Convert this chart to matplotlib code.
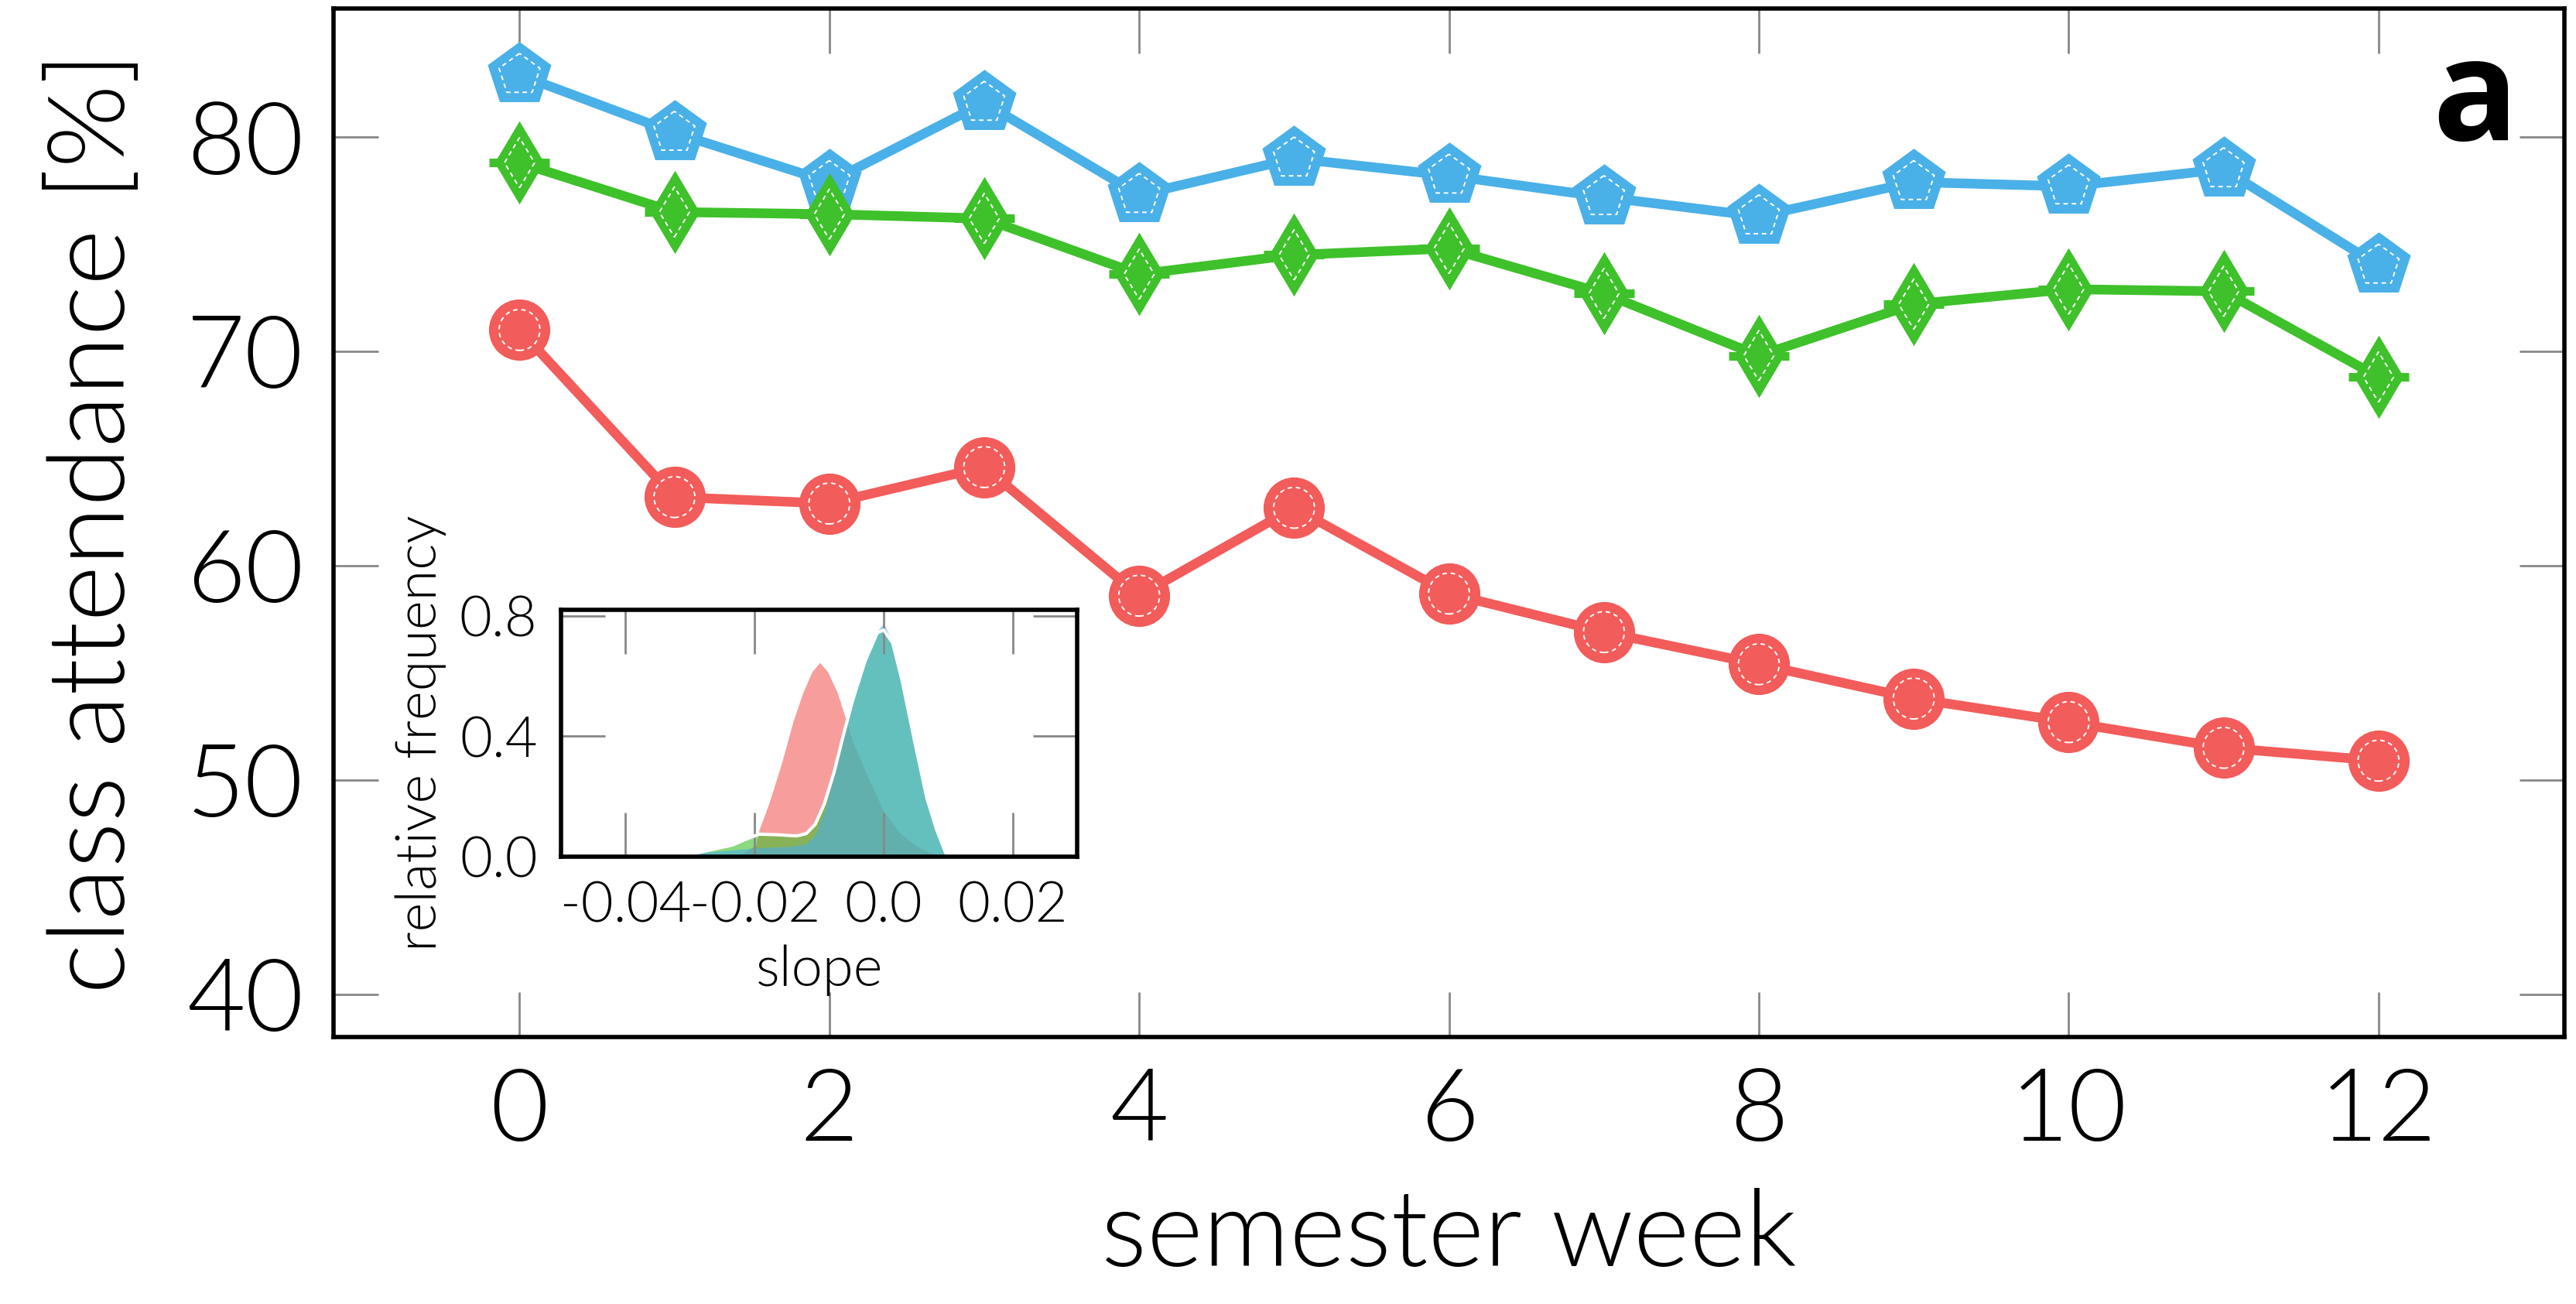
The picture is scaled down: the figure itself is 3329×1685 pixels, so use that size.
import matplotlib
matplotlib.use("Agg")
import matplotlib.pyplot as plt

# main panel data
weeks = [0, 1, 2, 3, 4, 5, 6, 7, 8, 9, 10, 11, 12]
blue_att = [82.9, 80.2, 77.9, 81.6, 77.3, 79.0, 78.2, 77.2, 76.3, 77.9, 77.7, 78.5, 74.0]
green_att = [78.8, 76.5, 76.4, 76.2, 73.6, 74.5, 74.8, 72.7, 69.8, 72.2, 72.9, 72.8, 68.8]
red_att = [71.0, 63.2, 62.9, 64.6, 58.6, 62.7, 58.7, 56.9, 55.4, 53.8, 52.7, 51.5, 50.9]

xticks = [0, 2, 4, 6, 8, 10, 12]
yticks = [40, 50, 60, 70, 80]

# inset: slope distributions
red_x = [-0.050, -0.024, -0.0217, -0.0198, -0.0193, -0.0178, -0.0159, -0.0140, -0.0125,
         -0.0111, -0.0099, -0.0087, -0.0072, -0.0058, -0.0048, -0.0024, 0.0, 0.0024,
         0.0048, 0.0072, 0.0096, 0.030]
red_y = [0, 0, 0.013, 0.039, 0.090, 0.176, 0.305, 0.452, 0.546, 0.615, 0.645, 0.615,
         0.546, 0.452, 0.383, 0.262, 0.151, 0.082, 0.039, 0.013, 0, 0]
green_x = [-0.050, -0.0337, -0.0289, -0.0234, -0.0217, -0.0193, -0.0164, -0.0135, -0.0120,
           -0.0106, -0.0092, -0.0077, -0.0063, -0.0048, -0.0029, -0.0010, 0.0, 0.0014,
           0.0029, 0.0048, 0.0067, 0.0082, 0.0096, 0.0104, 0.0116, 0.0190, 0.0200, 0.030]
green_y = [0, 0.003, 0.013, 0.039, 0.055, 0.075, 0.073, 0.069, 0.077, 0.108, 0.176, 0.28,
           0.40, 0.52, 0.649, 0.744, 0.753, 0.710, 0.581, 0.383, 0.194, 0.090, 0.013,
           0.004, 0.005, 0.005, 0, 0]
blue_x = [-0.050, -0.0470, -0.0420, -0.0360, -0.0300, -0.0289, -0.0241, -0.0193, -0.0145,
          -0.0120, -0.0106, -0.0092, -0.0077, -0.0063, -0.0048, -0.0029, -0.0010, 0.0,
          0.0014, 0.0029, 0.0048, 0.0067, 0.0082, 0.0096, 0.0106, 0.030]
blue_y = [0, 0.006, 0.008, 0.006, 0.004, 0.013, 0.021, 0.030, 0.034, 0.043, 0.073, 0.150,
          0.27, 0.39, 0.51, 0.648, 0.750, 0.775, 0.712, 0.582, 0.383, 0.194, 0.088, 0.012,
          0, 0]
inset_xticks = [-0.04, -0.02, 0.0, 0.02]
inset_xlabels = ["-0.04", "-0.02", "0.0", "0.02"]
inset_yticks = [0.0, 0.4, 0.8]
inset_ylabels = ["0.0", "0.4", "0.8"]

BLUE = "#4ab0e8"
GREEN = "#3ec12a"
RED = "#f25c5a"

plt.rcParams["font.family"] = ["Lato", "DejaVu Sans"]
plt.rcParams["font.weight"] = 300
plt.rcParams["axes.unicode_minus"] = False

fig = plt.figure(figsize=(16.645, 8.425), dpi=200)
ax = fig.add_axes([0.1295, 0.2047, 0.866, 0.7888])

# blue pentagons
ax.plot(weeks, blue_att, color=BLUE, lw=4.5, marker="p", ms=28, mfc=BLUE, mec=BLUE, mew=2.5, zorder=3)
ax.scatter(weeks, blue_att, marker="p", s=20**2, facecolors="none", edgecolors="white",
           linewidths=0.7, linestyle=(0, (3, 2.5)), zorder=4)
# green thin diamonds
ax.plot(weeks, green_att, color=GREEN, lw=4.5, marker="d", ms=24, mfc=GREEN, mec=GREEN, mew=2.5, zorder=5)
ax.plot(weeks, green_att, ls="none", marker="_", ms=28, mec=GREEN, mew=4, zorder=5)
ax.scatter(weeks, green_att, marker="d", s=16.5**2, facecolors="none", edgecolors="white",
           linewidths=0.7, linestyle=(0, (3, 2.5)), zorder=6)
# red circles
ax.plot(weeks, red_att, color=RED, lw=4.5, marker="o", ms=26, mfc=RED, mec=RED, mew=2.5, zorder=3)
ax.scatter(weeks, red_att, marker="o", s=19**2, facecolors="none", edgecolors="white",
           linewidths=0.7, linestyle=(0, (3, 2.5)), zorder=4)

ax.set_xlim(-1.2, 13.2)
ax.set_ylim(38, 86)
ax.set_xticks(xticks)
ax.set_yticks(yticks)
ax.tick_params(direction="in", length=21, width=1, color="#888888", top=True, right=True,
               labelsize=47, pad=14)
for lab in ax.get_xticklabels() + ax.get_yticklabels():
    lab.set_fontweight(300)
for s in ax.spines.values():
    s.set_linewidth(2)
    s.set_color("black")
ax.set_xlabel("semester week", fontsize=50, fontweight=300, labelpad=14)
ax.set_ylabel("class attendance [%]", fontsize=50, fontweight=300, labelpad=20)
ax.text(0.96, 0.908, "a", transform=ax.transAxes, fontsize=66, fontweight="bold",
        family=["Open Sans", "DejaVu Sans"], ha="center", va="center")

# inset
ins = fig.add_axes([0.2178, 0.3430, 0.2004, 0.1893])
ins.fill_between(red_x, red_y, color=RED, alpha=0.6, lw=0)
ins.fill_between(green_x, green_y, color=GREEN, alpha=0.6, lw=0)
ins.plot(green_x, green_y, color="white", lw=1.5)
ins.fill_between(blue_x, blue_y, color=BLUE, alpha=0.6, lw=0)
ins.set_xlim(-0.05, 0.03)
ins.set_ylim(0, 0.82)
ins.set_xticks(inset_xticks)
ins.set_xticklabels(inset_xlabels, fontweight=300)
ins.set_yticks(inset_yticks)
ins.set_yticklabels(inset_ylabels, fontweight=300)
ins.tick_params(direction="in", length=20.5, width=1, color="#888888", top=True, right=True,
                labelsize=26, pad=11)
for s in ins.spines.values():
    s.set_linewidth(2)
    s.set_color("black")
ins.set_xlabel("slope", fontsize=26, fontweight=300, labelpad=6)
ins.set_ylabel("relative frequency", fontsize=26, fontweight=300, labelpad=6)

fig.savefig("out.png", dpi=200)
